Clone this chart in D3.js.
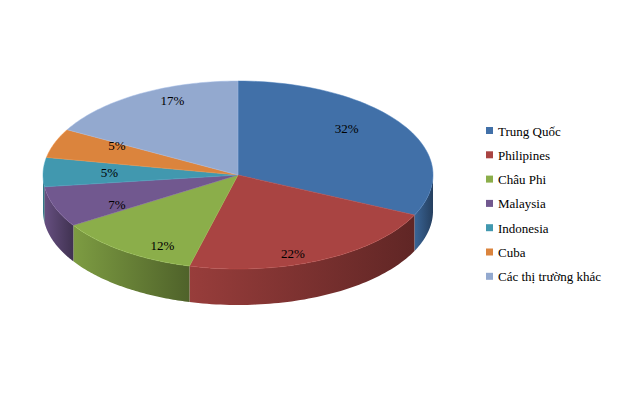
<!DOCTYPE html>
<html><head><meta charset="utf-8">
<script src="https://cdn.jsdelivr.net/npm/d3@7"></script>
<style>body{margin:0;background:#fff}</style></head>
<body><svg id="c" width="626" height="400"></svg>
<script>
const categories=["Trung Quốc","Philipines","Châu Phi","Malaysia","Indonesia","Cuba","Các thị trường khác"];
const values=[32,22,12,7,5,5,17];
const colors=["#4170A8","#A94442","#8BAE4A","#71588F","#4198AF","#DB843D","#93A9CF"];
const svg=d3.select("#c");
const cx=238,cy=175,rx=195,ry=94,depth=36;
const pie=d3.pie().sort(null).value(d=>d)(values);
const P=(a,dy=0)=>[cx+rx*Math.sin(a),cy-ry*Math.cos(a)+dy];
const defs=svg.append("defs");
colors.forEach((c,i)=>{
  const g=defs.append("linearGradient").attr("id","g"+i).attr("x1",0).attr("x2",1);
  g.append("stop").attr("offset","0%").attr("stop-color",d3.color(c).darker(0.3));
  g.append("stop").attr("offset","100%").attr("stop-color",d3.color(c).darker(1.6));
});
const N=60;
pie.forEach((s,i)=>{
  const a0=Math.max(s.startAngle,Math.PI/2),a1=Math.min(s.endAngle,3*Math.PI/2);
  if(a1<=a0)return;
  const top=[],bot=[];
  for(let k=0;k<=N;k++){const a=a0+(a1-a0)*k/N;top.push(P(a));bot.push(P(a,depth));}
  const pts=top.concat(bot.reverse());
  svg.append("path").attr("d","M"+pts.map(p=>p.join(",")).join("L")+"Z")
    .attr("fill","url(#g"+i+")");
});
pie.forEach((s,i)=>{
  const pts=[[cx,cy]];
  for(let k=0;k<=N;k++){pts.push(P(s.startAngle+(s.endAngle-s.startAngle)*k/N));}
  svg.append("path").attr("d","M"+pts.map(p=>p.join(",")).join("L")+"Z")
    .attr("fill",colors[i]).attr("stroke",d3.color(colors[i]).brighter(0.3)).attr("stroke-width",0.5);
});
pie.forEach((s,i)=>{
  const m=(s.startAngle+s.endAngle)/2;
  const p=[cx+rx*0.66*Math.sin(m),cy-ry*0.92*Math.cos(m)];
  svg.append("text").attr("x",p[0]).attr("y",p[1]).attr("text-anchor","middle").attr("dy","0.35em")
    .attr("font-family","Liberation Serif").attr("font-size",13).text(values[i]+"%");
});
const lg=svg.append("g");
categories.forEach((c,i)=>{
  const y=131+i*24.3;
  lg.append("rect").attr("x",486).attr("y",y-4).attr("width",7).attr("height",7).attr("fill",colors[i]);
  lg.append("text").attr("x",498).attr("y",y).attr("dy","0.35em")
    .attr("font-family","Liberation Serif").attr("font-size",13).text(c);
});
</script></body></html>
